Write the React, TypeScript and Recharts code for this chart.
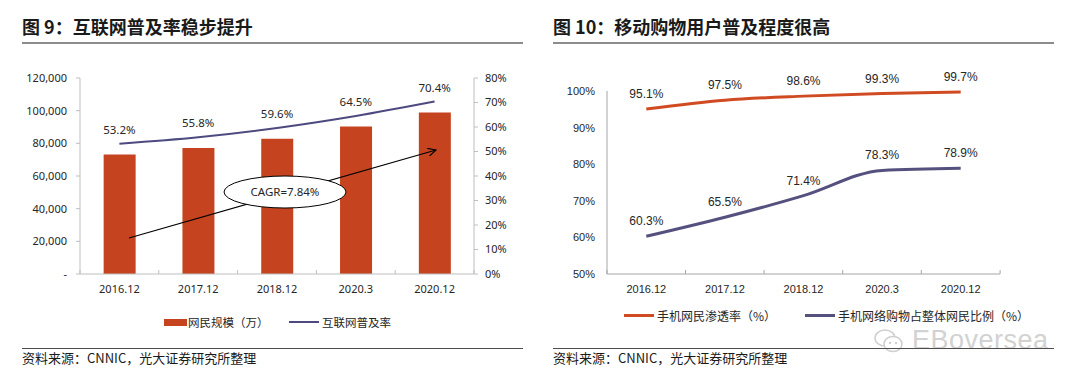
import React from 'react';
import {
  ComposedChart,
  LineChart,
  Bar,
  Line,
  XAxis,
  YAxis,
  LabelList,
} from 'recharts';

const CATEGORIES = ['2016.12', '2017.12', '2018.12', '2020.3', '2020.12'];

// 图 9
const NETIZENS = [73125, 77198, 82851, 90359, 98899];
const PENETRATION = [53.2, 55.8, 59.6, 64.5, 70.4];
const NETIZEN_TICKS = [0, 20000, 40000, 60000, 80000, 100000, 120000];
const PENETRATION_TICKS = [0, 10, 20, 30, 40, 50, 60, 70, 80];

// 图 10
const MOBILE_PENETRATION = [95.1, 97.5, 98.6, 99.3, 99.7];
const MOBILE_SHOPPING_SHARE = [60.3, 65.5, 71.4, 78.3, 78.9];
const SHARE_TICKS = [50, 60, 70, 80, 90, 100];

const LEFT_SERIES = [
  { name: '网民规模（万）', color: '#c5441f', kind: 'box' },
  { name: '互联网普及率', color: '#4d4a80', kind: 'line' },
];
const RIGHT_SERIES = [
  { name: '手机网民渗透率（%）', color: '#d04a22', kind: 'line' },
  { name: '手机网络购物占整体网民比例（%）', color: '#55517f', kind: 'line' },
];

const leftData = CATEGORIES.map((c, i) => ({
  period: c,
  users: NETIZENS[i],
  rate: PENETRATION[i],
}));

const rightData = CATEGORIES.map((c, i) => ({
  period: c,
  mobile: MOBILE_PENETRATION[i],
  shopping: MOBILE_SHOPPING_SHARE[i],
}));

const CJK = '"Noto Sans CJK SC", "Noto Sans", sans-serif';
const PLOT_W = 394;
const TEXT = '#262626';

const pct = (v: number) => `${v.toFixed(1)}%`;

// category label plus the small upward tick marks on the category boundaries
const makeCategoryTick = (fontFamily: string, stroke: string) => (props: any) => {
  const { x, y, payload, index } = props;
  const half = PLOT_W / CATEGORIES.length / 2;
  const axisY = y - 11;
  return (
    <g>
      <line x1={x - half} x2={x - half} y1={axisY} y2={axisY - 4} stroke={stroke} />
      {index === CATEGORIES.length - 1 && (
        <line x1={x + half} x2={x + half} y1={axisY} y2={axisY - 4} stroke={stroke} />
      )}
      <text x={x} y={y} dy="0.71em" textAnchor="middle" fontSize={11} fontFamily={fontFamily} fill={TEXT}>
        {payload.value}
      </text>
    </g>
  );
};

const Title = ({ left, text }: { left: number; text: string }) => (
  <>
    <div
      style={{
        position: 'absolute',
        left,
        top: 16,
        fontFamily: CJK,
        fontWeight: 700,
        fontSize: 18,
        lineHeight: '20px',
        color: '#1a1a1a',
        whiteSpace: 'nowrap',
      }}
    >
      {text}
    </div>
    <div style={{ position: 'absolute', left, top: 42, width: 501, height: 2, background: '#8c8c8c' }} />
  </>
);

const Source = ({ left }: { left: number }) => (
  <>
    <div style={{ position: 'absolute', left, top: 348, width: 501, height: 1, background: '#4d4d4d' }} />
    <div
      style={{
        position: 'absolute',
        left,
        top: 350,
        fontFamily: CJK,
        fontSize: 13,
        lineHeight: '16px',
        color: '#1a1a1a',
        whiteSpace: 'nowrap',
      }}
    >
      资料来源：CNNIC，光大证券研究所整理
    </div>
  </>
);

type LegendItem = { name: string; color: string; kind: string };

const LegendRow = ({ items, top, starts, size }: { items: LegendItem[]; top: number; starts: number[]; size: number }) => (
  <>
    {items.map((s, i) => (
      <div
        key={s.name}
        style={{
          position: 'absolute',
          left: starts[i],
          top: top - 8,
          height: 16,
          display: 'flex',
          alignItems: 'center',
          fontFamily: CJK,
          fontSize: size,
          color: TEXT,
          whiteSpace: 'nowrap',
        }}
      >
        <span
          style={{
            display: 'inline-block',
            width: s.kind === 'box' ? 23 : 30,
            height: s.kind === 'box' ? 7 : size > 11.5 ? 3 : 2,
            background: s.color,
            marginRight: s.kind === 'box' ? 1 : 3,
          }}
        />
        {s.name}
      </div>
    ))}
  </>
);

const PenetrationChart = () => (
  <div style={{ position: 'absolute', left: 0, top: 0, width: 530, height: 300 }}>
    <ComposedChart
      width={530}
      height={300}
      data={leftData}
      margin={{ top: 78, right: 0, bottom: 0, left: 0 }}
      barCategoryGap="30%"
    >
      <XAxis
        dataKey="period"
        height={26}
        tickLine={false}
        tickSize={4}
        tickMargin={7}
        axisLine={{ stroke: '#bfbfbf' }}
        tick={makeCategoryTick('"Noto Sans", sans-serif', '#bfbfbf')}
        interval={0}
      />
      <YAxis
        yAxisId="left"
        width={80}
        domain={[0, 120000]}
        ticks={NETIZEN_TICKS}
        tickFormatter={(v: number) => (v === 0 ? '-' : v.toLocaleString('en-US'))}
        axisLine={{ stroke: '#bfbfbf' }}
        tickLine={{ stroke: '#bfbfbf' }}
        tickSize={4}
        tickMargin={9}
        tick={{ fontSize: 11, fill: TEXT, fontFamily: '"Noto Sans", sans-serif' }}
      />
      <YAxis
        yAxisId="right"
        orientation="right"
        width={56}
        domain={[0, 80]}
        ticks={PENETRATION_TICKS}
        tickFormatter={(v: number) => `${v}%`}
        axisLine={{ stroke: '#bfbfbf' }}
        tickLine={{ stroke: '#bfbfbf' }}
        tickSize={4}
        tickMargin={7}
        tick={{ fontSize: 11, fill: TEXT, fontFamily: '"Noto Sans", sans-serif' }}
      />
      <Bar yAxisId="left" dataKey="users" fill={LEFT_SERIES[0].color} isAnimationActive={false} />
      <Line
        yAxisId="right"
        type="monotone"
        dataKey="rate"
        stroke={LEFT_SERIES[1].color}
        strokeWidth={2}
        dot={false}
        isAnimationActive={false}
      >
        <LabelList
          dataKey="rate"
          position="top"
          offset={10}
          formatter={(v: any) => pct(Number(v))}
          style={{ fontSize: 11.5, fill: TEXT, fontFamily: '"Noto Sans", sans-serif' }}
        />
      </Line>
    </ComposedChart>
    <svg width={530} height={300} style={{ position: 'absolute', left: 0, top: 0, pointerEvents: 'none' }}>
      <defs>
        <marker id="arrow" markerWidth="10" markerHeight="10" refX="8" refY="4" orient="auto" markerUnits="userSpaceOnUse">
          <path d="M0,0 L8,4 L0,8" fill="none" stroke="#000" strokeWidth={1.1} />
        </marker>
      </defs>
      <line x1={129} y1={238} x2={436} y2={150} stroke="#000" strokeWidth={1.1} markerEnd="url(#arrow)" />
      <ellipse cx={285} cy={192} rx={61} ry={16} fill="#fff" stroke="#000" strokeWidth={1} />
      <text x={285} y={192} dy="0.35em" textAnchor="middle" fontSize={11.5} fontFamily='"Noto Sans", sans-serif' fill={TEXT}>
        CAGR=7.84%
      </text>
    </svg>
  </div>
);

const ShoppingChart = () => (
  <div style={{ position: 'absolute', left: 527, top: 0, width: 530, height: 300 }}>
    <LineChart width={530} height={300} data={rightData} margin={{ top: 91, right: 57, bottom: 0, left: 0 }}>
      <XAxis
        dataKey="period"
        scale="band"
        height={26}
        tickLine={false}
        tickSize={4}
        tickMargin={7}
        axisLine={{ stroke: '#a6a6a6' }}
        tick={makeCategoryTick('"Liberation Sans", Arial, sans-serif', '#a6a6a6')}
        interval={0}
      />
      <YAxis
        width={80}
        domain={[50, 100]}
        ticks={SHARE_TICKS}
        tickFormatter={(v: number) => `${v}%`}
        axisLine={{ stroke: '#a6a6a6' }}
        tickLine={false}
        tickSize={4}
        tickMargin={8}
        tick={{ fontSize: 11, fill: TEXT, fontFamily: '"Liberation Sans", Arial, sans-serif' }}
      />
      <Line
        type="monotone"
        dataKey="mobile"
        stroke={RIGHT_SERIES[0].color}
        strokeWidth={3}
        dot={false}
        isAnimationActive={false}
      >
        <LabelList
          dataKey="mobile"
          position="top"
          offset={11}
          formatter={(v: any) => pct(Number(v))}
          style={{ fontSize: 12, fill: TEXT, fontFamily: '"Liberation Sans", Arial, sans-serif' }}
        />
      </Line>
      <Line
        type="monotone"
        dataKey="shopping"
        stroke={RIGHT_SERIES[1].color}
        strokeWidth={3}
        dot={false}
        isAnimationActive={false}
      >
        <LabelList
          dataKey="shopping"
          position="top"
          offset={11}
          formatter={(v: any) => pct(Number(v))}
          style={{ fontSize: 12, fill: TEXT, fontFamily: '"Liberation Sans", Arial, sans-serif' }}
        />
      </Line>
    </LineChart>
  </div>
);

const Watermark = () => (
  <>
    <svg width={32} height={28} style={{ position: 'absolute', left: 873, top: 327 }}>
      <ellipse cx={12} cy={11} rx={10} ry={8} fill="none" stroke="#cfcfcf" strokeWidth={1.5} />
      <ellipse cx={20} cy={17} rx={9} ry={7.5} fill="#fff" stroke="#cfcfcf" strokeWidth={1.5} />
      <circle cx={17} cy={16} r={1.2} fill="#cfcfcf" />
      <circle cx={23} cy={16} r={1.2} fill="#cfcfcf" />
    </svg>
    <div
      style={{
        position: 'absolute',
        left: 912,
        top: 325,
        fontFamily: '"Liberation Sans", Arial, sans-serif',
        fontSize: 27,
        lineHeight: '30px',
        color: '#d2d2d2',
        letterSpacing: 0.5,
      }}
    >
      EBoversea
    </div>
  </>
);

export default function App() {
  return (
    <div style={{ position: 'fixed', left: 0, top: 0, width: 1080, height: 384, background: '#fff', overflow: 'hidden' }}>
      <Title left={22} text="图 9：互联网普及率稳步提升" />
      <Title left={553} text="图 10：移动购物用户普及程度很高" />
      <PenetrationChart />
      <ShoppingChart />
      <LegendRow items={LEFT_SERIES} top={322} starts={[164, 289]} size={11.5} />
      <LegendRow items={RIGHT_SERIES} top={315} starts={[624, 805]} size={12} />
      <Watermark />
      <Source left={22} />
      <Source left={553} />
    </div>
  );
}
